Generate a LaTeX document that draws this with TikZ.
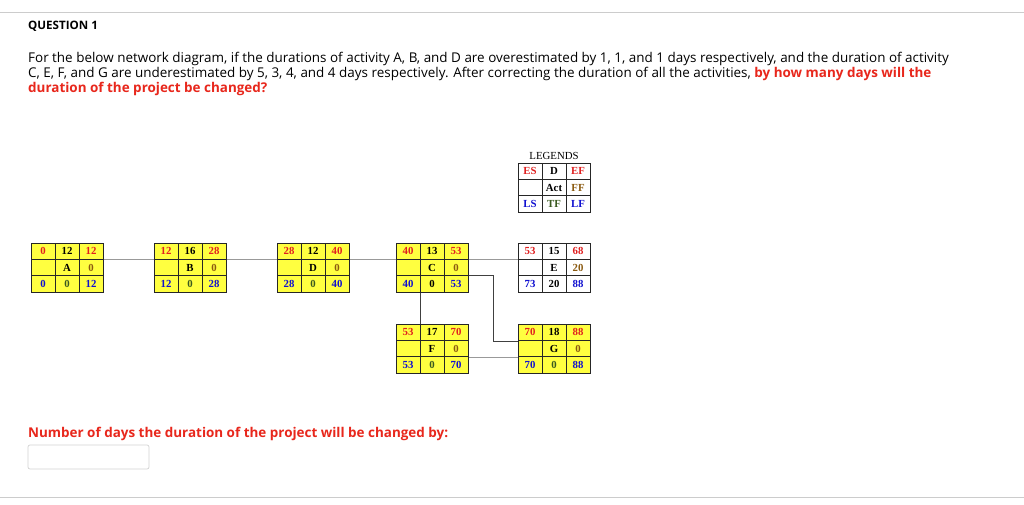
\documentclass[tikz,border=0pt]{standalone}
\usepackage{fontspec}
\setmainfont{Open Sans}
\newfontfamily\tnr{Liberation Serif}
\usetikzlibrary{calc}
\definecolor{qred}{HTML}{E8271C}
\definecolor{nred}{HTML}{E02020}
\definecolor{nblue}{HTML}{1010D0}
\definecolor{nbrown}{HTML}{8B5A10}
\definecolor{ngreen}{HTML}{3A5A20}
\definecolor{nyel}{HTML}{FFFF40}
\tikzset{
  cellt/.style={font=\tnr\bfseries\fontsize{10.8}{11}\selectfont, inner sep=0pt},
  conn/.style={draw=gray!80, line width=0.8pt},
  connd/.style={draw=black!75, line width=0.7pt},
  boxnode/.style={draw=none, minimum width=72pt, minimum height=49pt, inner sep=0pt}
}
\def\tfcol{ngreen}
% name, x, y, fill
\newcommand\actbox[4]{%
  \node[boxnode, fill=#4, anchor=north west] (#1) at (#2,#3) {};
  \draw[black!85, line width=0.7pt] (#1.north west) rectangle (#1.south east);
  \foreach \i in {1,2} {
    \draw[black!85, line width=0.6pt] ($(#1.north west)+(24*\i,0)$) -- ($(#1.south west)+(24*\i,0)$);
    \draw[black!85, line width=0.6pt] ($(#1.north west)+(0,16.33*\i)$) -- ($(#1.north east)+(0,16.33*\i)$);
  }
}
% name, es,d,ef, act,ff, ls,tf,lf
\newcommand\actvals[9]{%
  \node[cellt, text=nred] at ($(#1.north west)+(12,8.2)$) {#2};
  \node[cellt] at ($(#1.north west)+(36,8.2)$) {#3};
  \node[cellt, text=nred] at ($(#1.north west)+(60,8.2)$) {#4};
  \node[cellt] at ($(#1.north west)+(36,24.5)$) {#5};
  \node[cellt, text=nbrown] at ($(#1.north west)+(60,24.5)$) {#6};
  \node[cellt, text=nblue] at ($(#1.north west)+(12,40.8)$) {#7};
  \node[cellt, text=\tfcol] at ($(#1.north west)+(36,40.8)$) {#8};
  \node[cellt, text=nblue] at ($(#1.north west)+(60,40.8)$) {#9};
}
\begin{document}
\begin{tikzpicture}[x=1pt,y=-1pt]
\useasboundingbox[fill=white] (0,0) rectangle (1024,504);
\draw[gray!40, line width=0.8pt] (0,12) -- (1024,12);
\draw[gray!40, line width=0.8pt] (0,497) -- (1024,497);
\node[anchor=base west, inner sep=0pt, font=\bfseries\fontsize{11.6}{13}\selectfont] (q) at (28,29) {QUESTION 1};
\node[anchor=base west, inner sep=0pt, font=\fontsize{13.45}{15}\selectfont] (l1) at (28,62) {For the below network diagram, if the durations of activity A, B, and D are overestimated by 1, 1, and 1 days respectively, and the duration of activity};
\node[anchor=base west, inner sep=0pt, font=\fontsize{13.45}{15}\selectfont] (l2) at (28,77) {C, E, F, and G are underestimated by 5, 3, 4, and 4 days respectively. After correcting the duration of all the activities, \textcolor{qred}{\bfseries by how many days will the}};
\node[anchor=base west, inner sep=0pt, font=\bfseries\fontsize{13.45}{15}\selectfont, text=qred] (l3) at (28,92) {duration of the project be changed?};
\node[anchor=base west, inner sep=0pt, font=\bfseries\fontsize{13.45}{15}\selectfont, text=qred] (nd) at (28,437) {Number of days the duration of the project will be changed by:};
\draw[gray!35, rounded corners=2pt, line width=0.7pt] (28,445) rectangle (149,469);
% connectors (drawn first)
\coordinate (Ar) at (103,259.3);
\coordinate (Er) at (518,259.3);
\draw[conn] (Ar) -- (Er);
\coordinate (Cr) at (468,275.7);
\coordinate (Gl) at (518,341);
\draw[connd] (Cr) -| (493,341) -- (Gl);
\draw[connd] (420,292) -- (420,324);
\draw[conn] (468,357) -- (518,357);
% legend
\node[font=\tnr\fontsize{10.8}{11}\selectfont] (legt) at (554,156) {LEGENDS};
\actbox{leg}{518}{163}{white}
\actvals{leg}{ES}{D}{EF}{Act}{FF}{LS}{TF}{LF}
% boxes
\actbox{A}{31}{243}{nyel}\actvals{A}{0}{12}{12}{A}{0}{0}{0}{12}
\actbox{B}{154}{243}{nyel}\actvals{B}{12}{16}{28}{B}{0}{12}{0}{28}
\actbox{D}{277}{243}{nyel}\actvals{D}{28}{12}{40}{D}{0}{28}{0}{40}
\actbox{F}{396}{324}{nyel}\actvals{F}{53}{17}{70}{F}{0}{53}{0}{70}
\actbox{G}{518}{324}{nyel}\actvals{G}{70}{18}{88}{G}{0}{70}{0}{88}
\def\tfcol{black}
\actbox{C}{396}{243}{nyel}\actvals{C}{40}{13}{53}{C}{0}{40}{0}{53}
\actbox{E}{518}{243}{white}\actvals{E}{53}{15}{68}{E}{20}{73}{20}{88}
\end{tikzpicture}
\end{document}
